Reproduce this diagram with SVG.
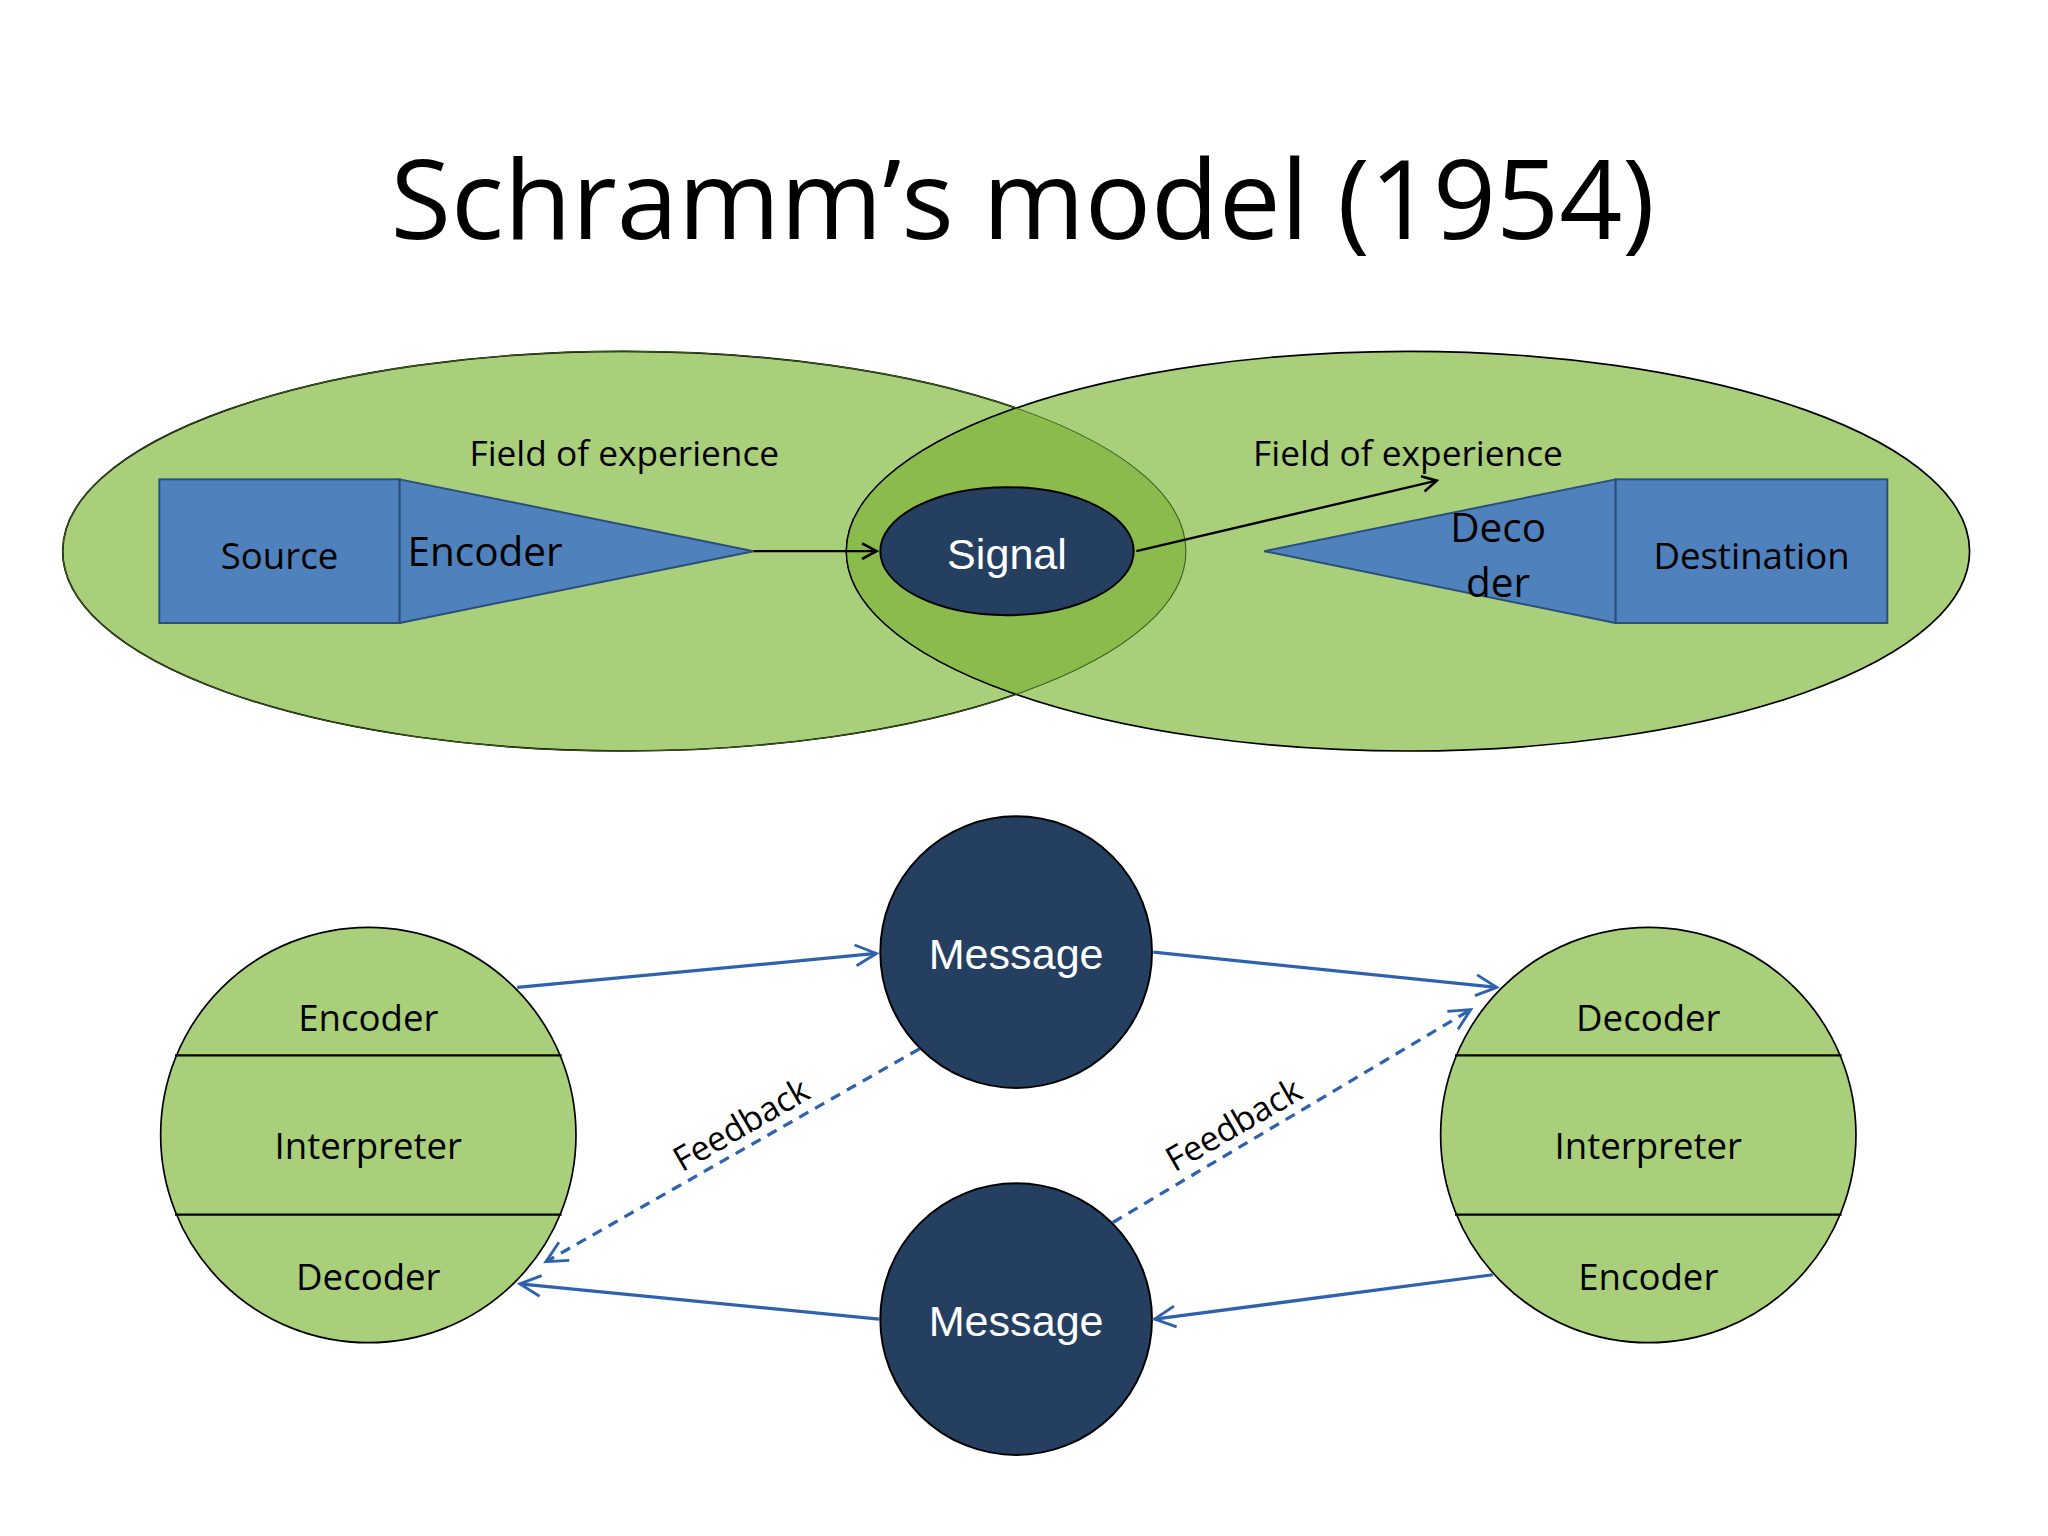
<svg xmlns="http://www.w3.org/2000/svg" width="2048" height="1536" viewBox="0 0 2048 1536">
<style>
.t{font-family:"Open Sans","Liberation Sans",sans-serif;fill:#000}
.w{font-family:"Liberation Sans",sans-serif;fill:#fff}
.g{fill:#a9cf7b;stroke:#000;stroke-width:1.3}
.b{fill:#4f81bd;stroke:#2a4f7c;stroke-width:1.5}
.k{stroke:#000;stroke-width:1.8;fill:none}
.bl{stroke:#2f62ad;stroke-width:2.5;fill:none}
.n{fill:#243f60;stroke:#000;stroke-width:1.5}
</style>
<defs>
<marker id="ak" markerWidth="14" markerHeight="14" refX="12" refY="7" orient="auto" markerUnits="userSpaceOnUse"><path d="M1,1 L12,7 L1,13" fill="none" stroke="#000" stroke-width="2"/></marker>
<marker id="ab" markerWidth="20" markerHeight="20" refX="17" refY="9" orient="auto" markerUnits="userSpaceOnUse"><path d="M1,1 L17,9 L1,17" fill="none" stroke="#2f62ad" stroke-width="2.2"/></marker>
<clipPath id="cl"><ellipse cx="478" cy="422" rx="430" ry="153"/></clipPath>
</defs>
<rect width="2048" height="1536" fill="#fff"/>
<g transform="scale(1.3061)">
<text class="t" x="783" y="183" font-size="84" text-anchor="middle" textLength="968" lengthAdjust="spacingAndGlyphs">Schramm’s model (1954)</text>
<g id="field-left"><ellipse class="g" cx="478" cy="422" rx="430" ry="153"/></g>
<g id="field-right"><ellipse class="g" cx="1078" cy="422" rx="430" ry="153"/>
<ellipse cx="1078" cy="422" rx="430" ry="153" fill="#8abb4c" stroke="#000" stroke-width="1" clip-path="url(#cl)"/></g>
<g id="overlap-edge"><ellipse cx="478" cy="422" rx="430" ry="153" fill="none" stroke="#3c5a1e" stroke-width="0.8"/></g>
<text class="t" x="478" y="357" font-size="27" text-anchor="middle">Field of experience</text>
<text class="t" x="1078" y="357" font-size="27" text-anchor="middle">Field of experience</text>
<g id="source"><rect class="b" x="122" y="367" width="184" height="110"/><text class="t" x="214" y="436" font-size="28" text-anchor="middle">Source</text></g>
<g id="encoder"><polygon class="b" points="306,367 577,422 306,477"/><text class="t" x="312" y="433" font-size="31" font-family="Liberation Sans,sans-serif">Encoder</text></g>
<g id="signal"><ellipse class="n" cx="771" cy="422" rx="97" ry="49"/><text class="w" x="771" y="436" font-size="33" text-anchor="middle">Signal</text></g>
<g id="decoder"><polygon class="b" points="968,422 1237,367 1237,477"/><text class="t" x="1147" y="415" font-size="31" text-anchor="middle" font-family="Liberation Sans,sans-serif">Deco</text><text class="t" x="1147" y="457" font-size="31" text-anchor="middle" font-family="Liberation Sans,sans-serif">der</text></g>
<g id="destination"><rect class="b" x="1237" y="367" width="208" height="110"/><text class="t" x="1341" y="436" font-size="28" text-anchor="middle">Destination</text></g>
<g id="left-person"><circle class="g" cx="282" cy="869" r="159"/><line class="k" x1="134" y1="808" x2="430" y2="808" stroke-width="1.3"/><line class="k" x1="134" y1="930" x2="430" y2="930" stroke-width="1.3"/>
<text class="t" x="282" y="789" font-size="28" text-anchor="middle">Encoder</text><text class="t" x="282" y="887" font-size="28" text-anchor="middle">Interpreter</text><text class="t" x="282" y="988" font-size="28" text-anchor="middle">Decoder</text></g>
<g id="right-person"><circle class="g" cx="1262" cy="869" r="159"/><line class="k" x1="1114" y1="808" x2="1410" y2="808" stroke-width="1.3"/><line class="k" x1="1114" y1="930" x2="1410" y2="930" stroke-width="1.3"/>
<text class="t" x="1262" y="789" font-size="28" text-anchor="middle">Decoder</text><text class="t" x="1262" y="887" font-size="28" text-anchor="middle">Interpreter</text><text class="t" x="1262" y="988" font-size="28" text-anchor="middle">Encoder</text></g>
<g id="message-top"><circle class="n" cx="778" cy="729" r="104"/><text class="w" x="778" y="742" font-size="33" text-anchor="middle">Message</text></g>
<g id="message-bottom"><circle class="n" cx="778" cy="1010" r="104"/><text class="w" x="778" y="1023" font-size="33" text-anchor="middle">Message</text></g>
<g id="connectors">
<line class="k" x1="577" y1="422" x2="671" y2="422" marker-end="url(#ak)"/>
<line class="k" x1="870" y1="422" x2="1100" y2="368" marker-end="url(#ak)"/>
<line class="bl" x1="396" y1="756" x2="671" y2="730" marker-end="url(#ab)"/>
<line class="bl" x1="883" y1="729" x2="1146" y2="756" marker-end="url(#ab)"/>
<line class="bl" x1="1143" y1="976" x2="884" y2="1010" marker-end="url(#ab)"/>
<line class="bl" x1="673" y1="1010" x2="398" y2="983" marker-end="url(#ab)"/>
<line class="bl" x1="704" y1="803" x2="418" y2="966" stroke-dasharray="8,6" marker-end="url(#ab)"/>
<line class="bl" x1="852" y1="936" x2="1126" y2="773" stroke-dasharray="8,6" marker-end="url(#ab)"/>
</g>
<text class="t" x="568" y="870" font-size="26" text-anchor="middle" transform="rotate(-30 568 862)">Feedback</text>
<text class="t" x="945" y="870" font-size="26" text-anchor="middle" transform="rotate(-30 945 862)">Feedback</text>
</g>
</svg>
